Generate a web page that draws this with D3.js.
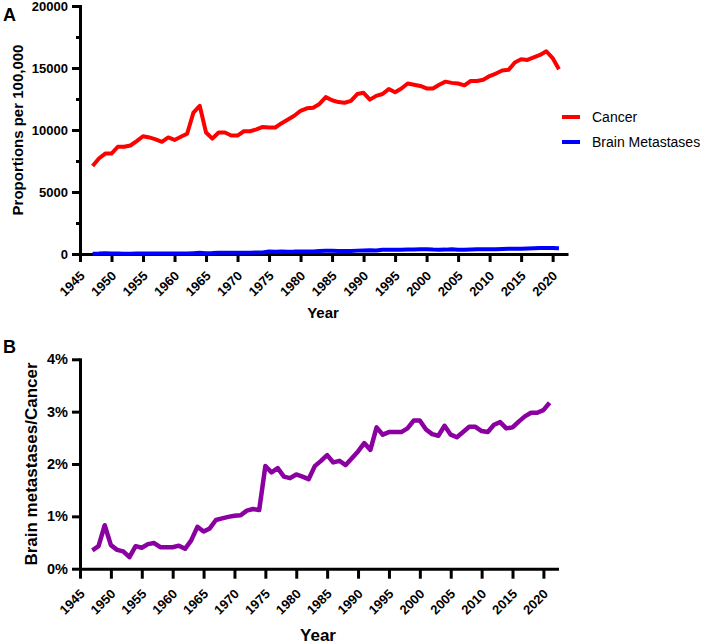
<!DOCTYPE html>
<html>
<head>
<meta charset="utf-8">
<script src="https://cdn.jsdelivr.net/npm/d3@7"></script>
<style>
  body { margin: 0; background: #fff; }
  svg { font-family: "Liberation Sans", Arial, sans-serif; }
  .axis path, .axis line { stroke: #000; stroke-width: 3; }
  .axis path { stroke-linecap: square; }
  .axis text { font-weight: bold; fill: #000; }
</style>
</head>
<body>
<div id="chart"></div>
<script>
// data
const years = [
  1947, 1948, 1949, 1950, 1951, 1952, 1953, 1954, 1955, 1956,
  1957, 1958, 1959, 1960, 1961, 1962, 1963, 1964, 1965, 1966,
  1967, 1968, 1969, 1970, 1971, 1972, 1973, 1974, 1975, 1976,
  1977, 1978, 1979, 1980, 1981, 1982, 1983, 1984, 1985, 1986,
  1987, 1988, 1989, 1990, 1991, 1992, 1993, 1994, 1995, 1996,
  1997, 1998, 1999, 2000, 2001, 2002, 2003, 2004, 2005, 2006,
  2007, 2008, 2009, 2010, 2011, 2012, 2013, 2014, 2015, 2016,
  2017, 2018, 2019, 2020, 2021
];

// proportions per 100,000
const cancer = [
  7100, 7700, 8100, 8100, 8650, 8650, 8750, 9100, 9500, 9400,
  9250, 9050, 9400, 9200, 9450, 9700, 11400, 11950, 9800, 9300,
  9800, 9800, 9550, 9550, 9900, 9900, 10050, 10250, 10200, 10200,
  10550, 10850, 11150, 11550, 11750, 11800, 12100, 12650, 12400, 12250,
  12200, 12350, 12900, 13000, 12450, 12750, 12900, 13300, 13050, 13350,
  13750, 13650, 13550, 13350, 13350, 13650, 13900, 13800, 13750, 13600,
  13950, 13950, 14050, 14350, 14550, 14800, 14850, 15450, 15700, 15650,
  15850, 16050, 16350, 15800, 14900
];

const brainMets = [
  25, 33, 67, 36, 31, 29, 19, 39, 38, 44,
  45, 37, 39, 38, 42, 37, 62, 96, 70, 72,
  91, 94, 95, 96, 101, 110, 115, 115, 200, 188,
  203, 191, 193, 208, 207, 202, 237, 261, 269, 249,
  251, 245, 272, 291, 299, 289, 348, 340, 341, 348,
  359, 366, 383, 378, 355, 351, 353, 377, 352, 341,
  364, 378, 381, 377, 380, 407, 416, 414, 424, 440,
  461, 478, 487, 479, 472
];

// brain metastases / cancer, in %
const ratioPct = [
  0.35, 0.43, 0.83, 0.45, 0.36, 0.33, 0.22, 0.43, 0.40, 0.47,
  0.49, 0.41, 0.41, 0.41, 0.44, 0.38, 0.54, 0.80, 0.71, 0.77,
  0.93, 0.96, 0.99, 1.01, 1.02, 1.11, 1.14, 1.12, 1.96, 1.84,
  1.92, 1.76, 1.73, 1.80, 1.76, 1.71, 1.96, 2.06, 2.17, 2.03,
  2.06, 1.98, 2.11, 2.24, 2.40, 2.27, 2.70, 2.56, 2.61, 2.61,
  2.61, 2.68, 2.83, 2.83, 2.66, 2.57, 2.54, 2.73, 2.56, 2.51,
  2.61, 2.71, 2.71, 2.63, 2.61, 2.75, 2.80, 2.68, 2.70, 2.81,
  2.91, 2.98, 2.98, 3.03, 3.17
];

const xTicks = [1945, 1950, 1955, 1960, 1965, 1970, 1975, 1980, 1985, 1990,
  1995, 2000, 2005, 2010, 2015, 2020];
const yTicksA = [0, 5000, 10000, 15000, 20000];
const yMinorA = [2500, 7500, 12500, 17500];
const yTicksB = [0, 1, 2, 3, 4];

const legendItems = ["Cancer", "Brain Metastases"];
const colors = { "Cancer": "#ff0000", "Brain Metastases": "#0000ff", ratio: "#8b00a0" };

const svg = d3.select("#chart").append("svg")
  .attr("width", 706)
  .attr("height", 644);

// ---------- panel A ----------
const xA = d3.scaleLinear().domain([1945, 2022.2]).range([80, 566.5]);
const yA = d3.scaleLinear().domain([0, 20000]).range([254, 6]);

const gA = svg.append("g");

// x axis
const xAxisA = gA.append("g")
  .attr("class", "axis")
  .attr("transform", `translate(0,${yA(0)})`)
  .call(d3.axisBottom(xA).tickValues(xTicks).tickSize(8).tickSizeOuter(0)
    .tickFormat(d3.format("d")));
xAxisA.selectAll("text")
  .attr("font-size", 13)
  .attr("text-anchor", "end")
  .attr("x", 5).attr("y", 22.6).attr("dy", null)
  .attr("transform", "rotate(-45,5,22.6)");

// y axis
gA.append("g")
  .attr("class", "axis")
  .attr("transform", `translate(${xA(1945)},0)`)
  .call(d3.axisLeft(yA).tickValues(yTicksA).tickSize(8).tickPadding(4)
    .tickSizeOuter(0).tickFormat(d3.format("d")))
  .selectAll("text").attr("font-size", 13);

// minor ticks
const minorA = gA.append("g")
  .attr("class", "axis")
  .attr("transform", `translate(${xA(1945)},0)`)
  .call(d3.axisLeft(yA).tickValues(yMinorA).tickSize(4).tickFormat(""));
minorA.select(".domain").remove();

const lineA = (vals) => d3.line()
  .x((d, i) => xA(years[i]))
  .y((d) => yA(d))(vals);

gA.append("path")
  .attr("d", lineA(brainMets))
  .attr("fill", "none")
  .attr("stroke", colors["Brain Metastases"])
  .attr("stroke-width", 4)
  .attr("stroke-linejoin", "round");

gA.append("path")
  .attr("d", lineA(cancer))
  .attr("fill", "none")
  .attr("stroke", colors["Cancer"])
  .attr("stroke-width", 4)
  .attr("stroke-linejoin", "round");

// legend
const legend = gA.append("g").attr("transform", "translate(562,117)");
legend.selectAll("line")
  .data(legendItems)
  .join("line")
  .attr("x1", 0).attr("x2", 18)
  .attr("y1", (d, i) => i * 25).attr("y2", (d, i) => i * 25)
  .attr("stroke", (d) => colors[d])
  .attr("stroke-width", 4);
legend.selectAll("text")
  .data(legendItems)
  .join("text")
  .attr("x", 30)
  .attr("y", (d, i) => i * 25 + 5)
  .attr("font-size", 14)
  .text((d) => d);

// titles
gA.append("text")
  .attr("x", 323).attr("y", 318)
  .attr("text-anchor", "middle")
  .attr("font-size", 15).attr("font-weight", "bold")
  .text("Year");
gA.append("text")
  .attr("transform", "translate(23,130) rotate(-90)")
  .attr("text-anchor", "middle")
  .attr("font-size", 15).attr("font-weight", "bold")
  .text("Proportions per 100,000");
gA.append("text")
  .attr("x", 3).attr("y", 21)
  .attr("font-size", 18).attr("font-weight", "bold")
  .text("A");

// ---------- panel B ----------
const xB = d3.scaleLinear().domain([1945, 2022.2]).range([80, 557]);
const yB = d3.scaleLinear().domain([0, 4]).range([568.7, 359.3]);

const gB = svg.append("g");

const xAxisB = gB.append("g")
  .attr("class", "axis")
  .attr("transform", `translate(0,${yB(0)})`)
  .call(d3.axisBottom(xB).tickValues(xTicks).tickSize(10).tickSizeOuter(0)
    .tickFormat(d3.format("d")));
xAxisB.selectAll("text")
  .attr("font-size", 13)
  .attr("text-anchor", "end")
  .attr("x", 5).attr("y", 26).attr("dy", null)
  .attr("transform", "rotate(-45,5,26)");

gB.append("g")
  .attr("class", "axis")
  .attr("transform", `translate(${xB(1945)},0)`)
  .call(d3.axisLeft(yB).tickValues(yTicksB).tickSize(8).tickPadding(4)
    .tickSizeOuter(0).tickFormat((d) => d + "%"))
  .selectAll("text").attr("font-size", 14.5);

gB.append("path")
  .attr("d", d3.line()
    .x((d, i) => xB(years[i]))
    .y((d) => yB(d))(ratioPct))
  .attr("fill", "none")
  .attr("stroke", colors.ratio)
  .attr("stroke-width", 4.5)
  .attr("stroke-linejoin", "round");

gB.append("text")
  .attr("x", 318).attr("y", 641)
  .attr("text-anchor", "middle")
  .attr("font-size", 17).attr("font-weight", "bold")
  .text("Year");
gB.append("text")
  .attr("transform", "translate(37,464) rotate(-90)")
  .attr("text-anchor", "middle")
  .attr("font-size", 17).attr("font-weight", "bold")
  .text("Brain metastases/Cancer");
gB.append("text")
  .attr("x", 3).attr("y", 353)
  .attr("font-size", 18).attr("font-weight", "bold")
  .text("B");
</script>
</body>
</html>
